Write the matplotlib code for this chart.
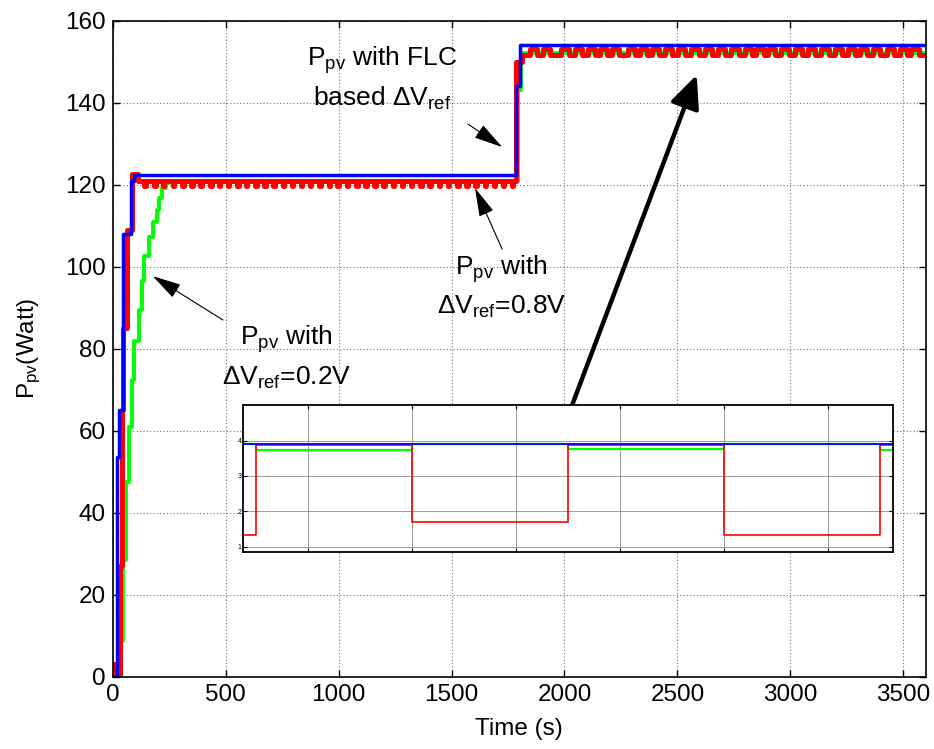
import numpy as np
import matplotlib
matplotlib.use("Agg")
import matplotlib.pyplot as plt

plt.rcParams['font.family'] = ['Liberation Sans', 'DejaVu Sans']
plt.rcParams['mathtext.fontset'] = 'custom'
plt.rcParams['mathtext.rm'] = 'Liberation Sans'
plt.rcParams['mathtext.it'] = 'Liberation Sans'
plt.rcParams['mathtext.default'] = 'rm'

# ---- data ----
# FLC based dVref (blue), step start times (s) and levels (W)
blue_t = [0, 20, 30, 48, 82, 97, 1787, 1803, 3585]
blue_v = [0, 53.7, 65, 108, 120.8, 122.3, 144.2, 154.2, 154.2]

# dVref = 0.2V (green)
green_t = [0, 34, 46, 60, 75, 87, 97, 115, 129, 141, 160, 178, 196, 204, 219, 237, 251, 1795, 1808, 3585]
green_v = [0, 8.6, 28.5, 47.4, 61, 72.4, 81.8, 89.5, 96.4, 102.5, 107.3, 111, 113.9, 116.8, 119.2, 120.5,
           120.8, 143.2, 152.2, 152.2]

# dVref = 0.8V (red): start-up steps
red_start_t = [0, 12, 33, 40, 47, 62, 85, 112]
red_start_v = [3, 0, 27, 65, 85, 109, 122.5, 121.0]
# first plateau: level and short dips
red_hi1, red_lo1 = 121.0, 119.6
red_dips1 = [144, 188, 225, 269, 311, 352, 392, 435, 473, 514, 555, 594, 635, 675, 715, 756, 797, 837,
             877, 918, 959, 998, 1039, 1081, 1121, 1162, 1202, 1243, 1284, 1324, 1365, 1405, 1446, 1486,
             1528, 1568, 1609, 1650, 1690, 1729, 1771]
# irradiance step
red_jump_t = [1785]
red_jump_v = [150.0]
# second plateau: low level with pulses
red_hi2, red_lo2 = 153.2, 151.7
red_pulses2 = [1862, 1921, 2002, 2061, 2121, 2172, 2224, 2298, 2349, 2401, 2460, 2519, 2578, 2637, 2696,
               2755, 2814, 2865, 2917, 2976, 3035, 3094, 3153, 3212, 3271, 3322, 3382, 3441, 3500, 3551]
red_end = 3585

# inset (zoomed view of the oscillation)
ins_red_t = [-0.62, -0.5, 1.0, 2.5, 4.0, 5.5, 5.63]
ins_red_v = [1.34, 3.87, 1.70, 3.87, 1.34, 3.87, 3.87]
ins_green_t = [-0.62, -0.5, 1.0, 2.5, 4.0, 5.5, 5.63]
ins_green_v = [3.91, 3.74, 3.91, 3.77, 3.91, 3.74, 3.74]
ins_blue_t = [-0.62, 5.63]
ins_blue_v = [3.91, 3.91]

# ---- build red step series from the read values ----
red_t = list(red_start_t)
red_v = list(red_start_v)
for d in red_dips1:
    red_t += [d - 3, d + 3]
    red_v += [red_lo1, red_hi1]
red_t += red_jump_t
red_v += red_jump_v
red_t.append(1812)
red_v.append(red_lo2)
for p in red_pulses2:
    red_t += [p - 16, p + 16]
    red_v += [red_hi2, red_lo2]
red_t.append(red_end)
red_v.append(red_lo2)

fig = plt.figure(figsize=(9.34, 7.49), dpi=100)
ax = fig.add_axes([0.1205, 0.0965, 0.871, 0.8758])

ax.step(green_t, green_v, where='post', color='#00ff00', lw=2.8, solid_joinstyle='round')
ax.step(red_t, red_v, where='post', color='#ff0000', lw=3.6, solid_joinstyle='round')
ax.step(blue_t, blue_v, where='post', color='#0000ff', lw=2.5, solid_joinstyle='round')

ax.set_xlim(0, 3600)
ax.set_ylim(0, 160)
ax.set_xticks(np.arange(0, 3501, 500))
ax.set_yticks(np.arange(0, 161, 20))
ax.tick_params(direction='in', length=5, width=1, top=True, right=True, labelsize=17.5, pad=5)
ax.grid(True, linestyle=(0, (1, 2)), color='0.45', lw=0.8)
for s in ax.spines.values():
    s.set_linewidth(1.2)
ax.set_xlabel('Time (s)', fontsize=17.5, labelpad=9)
ax.set_ylabel('P$_{pv}$(Watt)', fontsize=17.5, labelpad=16)

# annotations
fs = 19
ax.text(1194, 149.0, 'P$_{pv}$ with FLC', fontsize=fs, ha='center', va='baseline')
ax.text(1194, 139.2, 'based $\\Delta$V$_{ref}$', fontsize=fs, ha='center', va='baseline')
ax.text(1720, 98.0, 'P$_{pv}$ with', fontsize=fs, ha='center', va='baseline')
ax.text(1720, 88.6, '$\\Delta$V$_{ref}$=0.8V', fontsize=fs, ha='center', va='baseline')
ax.text(770, 80.9, 'P$_{pv}$ with', fontsize=fs, ha='center', va='baseline')
ax.text(770, 71.1, '$\\Delta$V$_{ref}$=0.2V', fontsize=fs, ha='center', va='baseline')

thin = dict(arrowstyle='-|>,head_length=0.9,head_width=0.24', color='black', lw=0.8,
            mutation_scale=20, shrinkA=0, shrinkB=0)
ax.annotate('', xy=(1724, 129.2), xytext=(1573, 134.8), arrowprops=thin)
ax.annotate('', xy=(1604, 119.2), xytext=(1724, 104.3), arrowprops=thin)
ax.annotate('', xy=(178, 97.7), xytext=(489, 87.0), arrowprops=thin)
ax.annotate('', xy=(2585, 146.8), xytext=(2034, 66.3),
            arrowprops=dict(arrowstyle='-|>,head_length=1.0,head_width=0.45', color='black', lw=3.2,
                            mutation_scale=20, shrinkA=0, shrinkB=0))

# inset
axi = fig.add_axes([0.2602, 0.263, 0.696, 0.196])
axi.step(ins_green_t, ins_green_v, where='post', color='#00ff00', lw=1.6)
axi.step(ins_red_t, ins_red_v, where='post', color='#ff0000', lw=1.2)
axi.step(ins_blue_t, ins_blue_v, where='post', color='#0000ff', lw=1.3)
axi.set_xlim(-0.62, 5.63)
axi.set_ylim(0.85, 5.0)
axi.set_xticks(range(0, 6))
axi.set_xticklabels([])
axi.set_yticks([1, 2, 3, 4])
axi.tick_params(direction='in', length=3, width=0.8, top=True, right=True, labelsize=5, pad=1)
axi.grid(True, linestyle='-', color='0.55', lw=0.6)
for s in axi.spines.values():
    s.set_linewidth(1.3)

fig.savefig('out.png', dpi=100)
